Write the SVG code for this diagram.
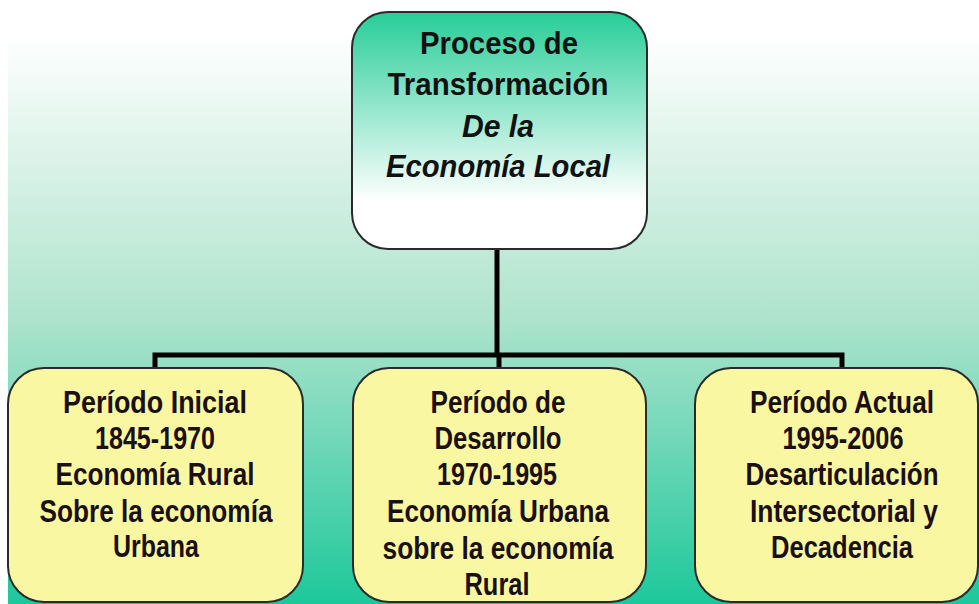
<svg xmlns="http://www.w3.org/2000/svg" width="979" height="604" viewBox="0 0 979 604">
<defs>
<linearGradient id="bg" x1="0" y1="0" x2="0" y2="1">
<stop offset="0" stop-color="#ffffff"/>
<stop offset="0.5" stop-color="#aee3cd"/>
<stop offset="1" stop-color="#1dc89b"/>
</linearGradient>
<linearGradient id="top" x1="0" y1="0" x2="0" y2="1">
<stop offset="0" stop-color="#27cd98"/>
<stop offset="0.8" stop-color="#ffffff"/>
<stop offset="1" stop-color="#ffffff"/>
</linearGradient>
</defs>
<style>
.box{stroke:#2a2a2a;stroke-width:2}
.leaf{fill:#faf7a2}
.t{font-family:"Liberation Sans",Arial,sans-serif;font-weight:bold;font-size:31px;fill:#111;text-anchor:middle}
.n{font-family:"Liberation Sans",Arial,sans-serif;font-weight:bold;font-size:31px;fill:#1a1010;text-anchor:middle}
.conn{stroke:#000;stroke-width:5;fill:none}
</style>
<rect x="8" y="33" width="971" height="571" fill="url(#bg)"/>
<g id="connectors">
<path class="conn" d="M497 249 V355 M155 370 V355 H842 V370 M499 355 V370"/>
</g>
<g id="root">
<rect class="box" x="352" y="12" width="295" height="237" rx="36" fill="url(#top)"/>
<text class="t" x="499" y="54" textLength="158" lengthAdjust="spacingAndGlyphs">Proceso de</text>
<text class="t" x="498" y="95" textLength="221" lengthAdjust="spacingAndGlyphs">Transformación</text>
<text class="t" x="498" y="137" font-style="italic" textLength="72" lengthAdjust="spacingAndGlyphs">De la</text>
<text class="t" x="498" y="177" font-style="italic" textLength="224" lengthAdjust="spacingAndGlyphs">Economía Local</text>
</g>
<g id="inicial">
<rect class="box leaf" x="8" y="368" width="295" height="234" rx="36"/>
<text class="n" x="155" y="413" textLength="184" lengthAdjust="spacingAndGlyphs">Período Inicial</text>
<text class="n" x="155" y="449" textLength="120" lengthAdjust="spacingAndGlyphs">1845-1970</text>
<text class="n" x="155" y="485" textLength="199" lengthAdjust="spacingAndGlyphs">Economía Rural</text>
<text class="n" x="156" y="522" textLength="233" lengthAdjust="spacingAndGlyphs">Sobre la economía</text>
<text class="n" x="156" y="557" textLength="86" lengthAdjust="spacingAndGlyphs">Urbana</text>
</g>
<g id="desarrollo">
<rect class="box leaf" x="353" y="368" width="293" height="234" rx="36"/>
<text class="n" x="498" y="413" textLength="135" lengthAdjust="spacingAndGlyphs">Período de</text>
<text class="n" x="498" y="449" textLength="127" lengthAdjust="spacingAndGlyphs">Desarrollo</text>
<text class="n" x="497" y="485" textLength="120" lengthAdjust="spacingAndGlyphs">1970-1995</text>
<text class="n" x="498" y="522" textLength="222" lengthAdjust="spacingAndGlyphs">Economía Urbana</text>
<text class="n" x="498" y="559" textLength="231" lengthAdjust="spacingAndGlyphs">sobre la economía</text>
<text class="n" x="497" y="595" textLength="65" lengthAdjust="spacingAndGlyphs">Rural</text>
</g>
<g id="actual">
<rect class="box leaf" x="695" y="368" width="283" height="234" rx="36"/>
<text class="n" x="842" y="413" textLength="184" lengthAdjust="spacingAndGlyphs">Período Actual</text>
<text class="n" x="843" y="449" textLength="121" lengthAdjust="spacingAndGlyphs">1995-2006</text>
<text class="n" x="842" y="485" textLength="193" lengthAdjust="spacingAndGlyphs">Desarticulación</text>
<text class="n" x="844" y="522" textLength="188" lengthAdjust="spacingAndGlyphs">Intersectorial y</text>
<text class="n" x="842" y="558" textLength="142" lengthAdjust="spacingAndGlyphs">Decadencia</text>
</g>
</svg>
